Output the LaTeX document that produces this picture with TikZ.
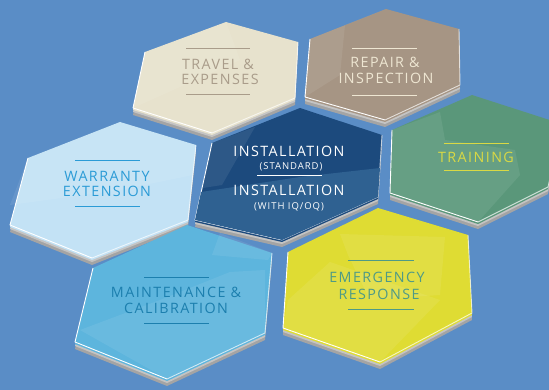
\documentclass[tikz,border=0pt]{standalone}
\usepackage{fontspec}
\setmainfont{Open Sans}[LetterSpace=10]
\definecolor{bgc}{HTML}{5A8DC6}
\definecolor{shadowc}{HTML}{A4A4A4}
\definecolor{stripc}{HTML}{C4C4C4}
\definecolor{travelf}{HTML}{E7E2CD}
\definecolor{travelt}{HTML}{A99C8A}
\definecolor{repairf}{HTML}{A69584}
\definecolor{repairt}{HTML}{EEE6D2}
\definecolor{installf}{HTML}{1C4A7D}
\definecolor{installl}{HTML}{2F6191}
\definecolor{warrf}{HTML}{C3E2F5}
\definecolor{warrt}{HTML}{2B9BD6}
\definecolor{trainf}{HTML}{5A977A}
\definecolor{traint}{HTML}{D9D944}
\definecolor{maintf}{HTML}{5DB5DD}
\definecolor{maintt}{HTML}{1C7FAE}
\definecolor{emerf}{HTML}{DFDC33}
\definecolor{emert}{HTML}{4E9A86}
\tikzset{
  lbl/.style={inner sep=0pt, anchor=base, font=\fontsize{14.3}{16}\selectfont},
  sublbl/.style={inner sep=0pt, anchor=base, font=\fontsize{9.5}{11}\selectfont},
  rulel/.style={line width=1pt},
  hexedge/.style={white, line width=0.9pt, line join=round},
  facet/.style={white, opacity=0.08}
}
% #1 fill, #2 top, #3 upper right, #4 lower right, #5 bottom, #6 lower left, #7 upper left (bare x,y)
\newcommand\hexplate[7]{%
  \fill[shadowc] ([yshift=-7]#2)--([yshift=-7]#3)--([yshift=-7]#4)--([yshift=-7]#5)--([yshift=-7]#6)--([yshift=-7]#7)--cycle;
  \fill[stripc] ([yshift=-4]#2)--([yshift=-4]#3)--([yshift=-4]#4)--([yshift=-4]#5)--([yshift=-4]#6)--([yshift=-4]#7)--cycle;
  \fill[#1] ([yshift=-2]#2)--([yshift=-2]#3)--([yshift=-2]#4)--([yshift=-2]#5)--([yshift=-2]#6)--([yshift=-2]#7)--cycle;
  \fill[#1] (#2)--(#3)--(#4)--(#5)--(#6)--(#7)--cycle;
  \draw[hexedge] (#7)--(#6)--(#5);
  \draw[hexedge, opacity=0.7] (#3)--(#4)--(#5);
}
\begin{document}
\begin{tikzpicture}[x=1pt, y=-1pt]
\fill[bgc] (0,0) rectangle (549,390);
\useasboundingbox (0,0) rectangle (549,390);

% Travel & Expenses
\hexplate{travelf}{226,22}{298,42}{295,98}{212,133}{133,108}{145,52}
\fill[facet] (145,52)--(226,22)--(240,60)--(133,108)--cycle;
% Repair & Inspection
\hexplate{repairf}{386,9}{459,29}{460,85}{385,120}{305,97}{310,39}
\fill[facet] (310,39)--(386,9)--(345,25)--(340,75)--(305,97)--cycle;
% Training
\hexplate{trainf}{472,95}{562,124}{548,187}{478,222}{390,193}{392,130}
\fill[facet] (392,130)--(440,112)--(445,140)--(515,150)--(520,175)--(478,222)--(390,193)--cycle;
% Warranty Extension
\hexplate{warrf}{120,122}{196,145}{188,220}{92,258}{10,225}{28,158}
\fill[facet] (28,158)--(120,122)--(196,145)--(193,175)--(120,190)--(10,205)--cycle;
% Installation
\hexplate{installf}{300,108}{382,135}{378,197}{282,240}{195,220}{212,143}
\fill[installl] (201,192)--(300,177)--(380,168)--(378,197)--(282,240)--(195,220)--cycle;
\fill[facet] (212,143)--(255,127)--(222,185)--(203,188)--cycle;
% Maintenance & Calibration
\hexplate{maintf}{187,225}{272,253}{265,333}{167,379}{75,342}{93,268}
\fill[facet] (80,330)--(160,300)--(230,272)--(265,270)--(265,333)--(167,379)--cycle;
\fill[facet] (220,233)--(272,253)--(268,260)--(212,255)--cycle;
% Emergency Response
\hexplate{emerf}{378,208}{468,235}{472,313}{380,362}{283,328}{288,252}
\fill[facet] (340,234)--(445,237)--(440,295)--(370,300)--(348,255)--cycle;
\fill[facet] (288,300)--(330,262)--(440,300)--(380,362)--(283,328)--cycle;

% Labels
\node[lbl, text=travelt] (trav1) at (218,70) {TRAVEL \&};
\node[lbl, text=travelt] (trav2) at (220,85) {EXPENSES};
\draw[rulel, travelt] (186,49) -- (250,49);
\draw[rulel, travelt] (186,95) -- (250,95);

\node[lbl, text=repairt] (rep1) at (385,68) {REPAIR \&};
\node[lbl, text=repairt] (rep2) at (386,84) {INSPECTION};
\draw[rulel, repairt] (352,49) -- (417,49);
\draw[rulel, repairt] (352,96) -- (417,96);

\node[lbl, text=white] (inst1) at (289,157) {INSTALLATION};
\node[sublbl, text=white] (inst1s) at (291,170) {(STANDARD)};
\draw[rulel, white] (257,176) -- (322,176);
\node[lbl, text=white] (inst2) at (289,196) {INSTALLATION};
\node[sublbl, text=white] (inst2s) at (289,210) {(WITH IQ/OQ)};

\node[lbl, text=warrt] (war1) at (107,182) {WARRANTY};
\node[lbl, text=warrt] (war2) at (107,197) {EXTENSION};
\draw[rulel, warrt] (75,161) -- (140,161);
\draw[rulel, warrt] (75,207) -- (140,207);

\node[lbl, text=traint] (train) at (476,163) {TRAINING};
\draw[rulel, traint] (444,144) -- (509,144);
\draw[rulel, traint] (444,171) -- (509,171);

\node[lbl, text=maintt] (main1) at (176,298) {MAINTENANCE \&};
\node[lbl, text=maintt] (main2) at (176,313) {CALIBRATION};
\draw[rulel, maintt] (144,277) -- (209,277);
\draw[rulel, maintt] (144,323) -- (209,323);

\node[lbl, text=emert] (emer1) at (377,283) {EMERGENCY};
\node[lbl, text=emert] (emer2) at (379,299) {RESPONSE};
\draw[rulel, emert] (348,261) -- (414,261);
\draw[rulel, emert] (348,309) -- (414,309);
\end{tikzpicture}
\end{document}
